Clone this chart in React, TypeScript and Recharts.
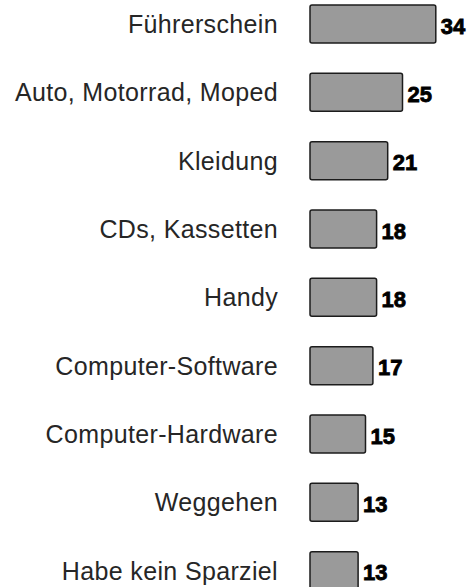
import { BarChart, Bar, XAxis, YAxis, LabelList } from "recharts";

const categories = [
  "Führerschein",
  "Auto, Motorrad, Moped",
  "Kleidung",
  "CDs, Kassetten",
  "Handy",
  "Computer-Software",
  "Computer-Hardware",
  "Weggehen",
  "Habe kein Sparziel",
];
const values = [34, 25, 21, 18, 18, 17, 15, 13, 13];

const FILL = "#9a9a9a";
const EDGE = "#1c1c1c";
const TEXT = "#262626";

export default function App() {
  const data = categories.map((name, i) => ({ name, value: values[i] }));

  return (
    <div style={{ position: "absolute", left: 0, top: -10, width: 469, height: 615, background: "#fff" }}>
      <BarChart
        width={469}
        height={615}
        data={data}
        layout="vertical"
        margin={{ top: 0, right: 11, bottom: 0, left: 0 }}
        barCategoryGap={0}
      >
        <XAxis type="number" domain={[0, 40]} hide />
        <YAxis
          type="category"
          dataKey="name"
          width={310}
          axisLine={false}
          tickLine={false}
          tickSize={0}
          tickMargin={32}
          interval={0}
          tick={{
            fill: TEXT,
            fontSize: 25,
            letterSpacing: 0.35,
            fontFamily: "Liberation Sans, Arial, sans-serif",
          }}
        />
        <Bar
          dataKey="value"
          barSize={38}
          fill={FILL}
          stroke={EDGE}
          strokeWidth={1.5}
          radius={2}
          isAnimationActive={false}
        >
          <LabelList
            dataKey="value"
            position="right"
            offset={5}
            dy={2}
            style={{
              fill: "#000",
              stroke: "#000",
              strokeWidth: 0.8,
              fontSize: 22,
              fontWeight: 700,
              fontFamily: "Liberation Sans, Arial, sans-serif",
            }}
          />
        </Bar>
      </BarChart>
    </div>
  );
}
